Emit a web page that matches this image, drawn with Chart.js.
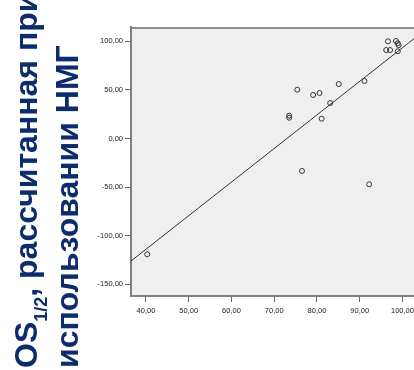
<!DOCTYPE html>
<html>
<head>
<meta charset="utf-8">
<script src="https://cdn.jsdelivr.net/npm/chart.js@4.4.0/dist/chart.umd.min.js"></script>
<style>
  body { margin: 0; background: #fff; }
  #wrap { position: relative; width: 414px; height: 370px; overflow: hidden; }
  #chart { position: absolute; left: 0; top: 0; }
  #side {
    position: absolute; left: 8px; top: 368px;
    font-family: "Liberation Sans", Arial, sans-serif; font-weight: bold;
    font-size: 32px; line-height: 36px; color: #0c2c6c;
    white-space: nowrap;
    transform-origin: 0 0; transform: rotate(-90deg);
  }
  #side .sub { font-size: 18px; position: relative; top: 10px; }
</style>
</head>
<body>
<div id="wrap">
  <canvas id="chart" width="414" height="370"></canvas>
  <div id="side">OS<span class="sub">1/2</span>, рассчитанная при<br>использовании НМГ</div>
</div>
<script>
// values
const xVals = [96.6, 98.5, 98.9, 99.1, 96.2, 97.1, 98.9, 91.1, 85.1, 75.4, 79.1, 80.6, 83.1, 73.5, 73.5, 81.1, 76.5, 92.2, 40.3];
const yVals = [100, 100.3, 98, 96, 91, 91, 89.7, 59.2, 56, 50.2, 44.8, 46.8, 36.5, 23.5, 21.4, 20.4, -33.4, -47.1, -119.1];
// fit line ends, where it meets the frame
const fitX = [36.5, 102.7];
const fitY = [-126, 102.7];
const xTicks = [40, 50, 60, 70, 80, 90, 100];
const yTicks = [-150, -100, -50, 0, 50, 100];

const fmt = v => v.toFixed(2).replace('.', ',');

const plotBg = {
    id: 'plotBg',
    beforeDraw(chart) {
        const { ctx, chartArea: a } = chart;
        ctx.save();
        ctx.fillStyle = '#efefef';
        ctx.fillRect(a.left, a.top, a.right - a.left, a.bottom - a.top);
        ctx.strokeStyle = '#8c8c8c';
        ctx.lineWidth = 2;
        ctx.beginPath();
        ctx.moveTo(a.left, a.top + 1);
        ctx.lineTo(a.right, a.top + 1);
        ctx.stroke();
        ctx.restore();
    }
};

const tickFont = { family: "'Liberation Sans', Arial, sans-serif", size: 7.5 };

new Chart(document.getElementById('chart'), {
    type: 'scatter',
    data: {
        datasets: [{
            data: xVals.map((x, i) => ({ x: x, y: yVals[i] })),
            pointStyle: 'circle',
            pointRadius: 2.5,
            borderWidth: 1,
            borderColor: '#333',
            backgroundColor: 'rgba(0,0,0,0)'
        }, {
            type: 'line',
            data: fitX.map((x, i) => ({ x: x, y: fitY[i] })),
            borderColor: '#333',
            borderWidth: 1,
            pointRadius: 0,
            fill: false
        }]
    },
    options: {
        responsive: false,
        animation: false,
        devicePixelRatio: 1,
        layout: { autoPadding: false, padding: { top: 27, left: 0, right: 0, bottom: 0 } },
        plugins: { legend: { display: false }, tooltip: { enabled: false } },
        scales: {
            x: {
                type: 'linear',
                min: 36.5,
                max: 102.7,
                afterBuildTicks: s => { s.ticks = xTicks.map(v => ({ value: v })); },
                afterFit: s => { s.height = 74; s.paddingLeft = 0; s.paddingRight = 0; },
                ticks: { callback: fmt, font: tickFont, color: '#222', padding: 4, maxRotation: 0, autoSkip: false },
                grid: { drawOnChartArea: false, tickLength: 6, color: '#666' },
                border: { color: '#808080', width: 2 }
            },
            y: {
                min: -162,
                max: 114.7,
                afterBuildTicks: s => { s.ticks = yTicks.map(v => ({ value: v })); },
                afterFit: s => { s.width = 131; s.paddingTop = 0; s.paddingBottom = 0; },
                ticks: { callback: fmt, font: tickFont, color: '#222', padding: 2, autoSkip: false },
                grid: { drawOnChartArea: false, tickLength: 6, color: '#666' },
                border: { color: '#808080', width: 2 }
            }
        }
    },
    plugins: [plotBg]
});
</script>
</body>
</html>
